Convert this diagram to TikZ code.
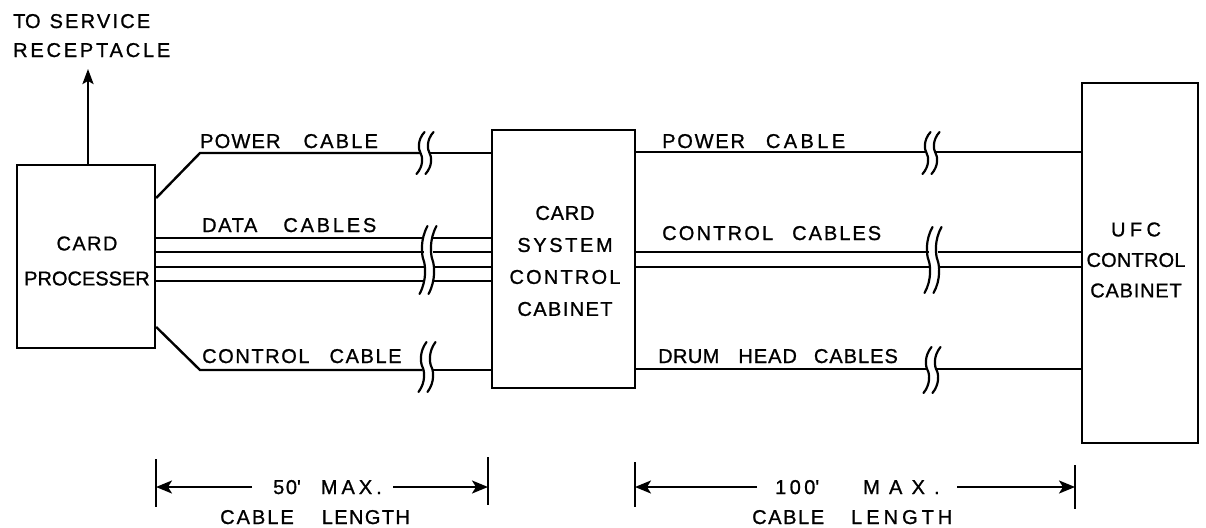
\documentclass[tikz,border=0pt]{standalone}
\usepackage{fontspec}
\setmainfont{Liberation Sans}[FakeBold=1]
\usetikzlibrary{arrows.meta}
\newcommand\lsp[2]{{\addfontfeature{LetterSpace=#1}#2}}
\newcommand\brkmark[3]{%
  \foreach \dx in {-4.5,4.5}{%
    \draw[brk] ({#1+\dx+4},{#2-#3}) .. controls ({#1+\dx-3.5},{#2-0.6*#3}) and ({#1+\dx-2},{#2-0.15*#3}) .. ({#1+\dx},{#2}) .. controls ({#1+\dx+2},{#2+0.15*#3}) and ({#1+\dx+3.5},{#2+0.6*#3}) .. ({#1+\dx-4},{#2+#3});
  }}
\begin{document}
\begin{tikzpicture}[x=1pt,y=-1pt,
  box/.style={draw, line width=2.4pt, inner sep=0pt},
  boxtext/.style={align=center, inner sep=0pt, font=\fontsize{20}{32}\selectfont},
  lbl/.style={inner sep=0pt, anchor=base west, font=\fontsize{20}{23}\selectfont},
  cable/.style={line width=2.4pt},
  brk/.style={line width=2.2pt, line cap=round},
  tick/.style={line width=2.2pt},
  dimarrow/.style={line width=2.2pt, -{Stealth[length=16pt,width=13pt,inset=4pt]}},
]
\useasboundingbox (0,0) rectangle (1206,527);

% boxes
\node[box, minimum width=138pt, minimum height=183pt] (cp) at (86,256.5) {};
\node[box, minimum width=143pt, minimum height=258pt] (csc) at (563.5,259) {};
\node[box, minimum width=116pt, minimum height=360pt] (ufc) at (1140,263) {};
\node[boxtext] (cpt) at (87,261) {\lsp{7}{CARD}\\[3pt]\lsp{0}{PROCESSER}};
\node[boxtext] (csct) at (565,261) {\lsp{4}{CARD}\\\lsp{13}{SYSTEM}\\\lsp{11}{CONTROL}\\\lsp{7}{CABINET}};
\node[boxtext] (ufct) at (1136,260) {\lsp{22}{UFC}\\[-1.5pt]\lsp{1}{CONTROL}\\[-1.5pt]\lsp{4}{CABINET}};

% service arrow
\coordinate (svc) at (88,69);
\draw[cable, -{Stealth[length=15pt,width=11pt,inset=3pt]}] (cp.north -| svc) -- (svc);
\node[lbl] (tsv) at (13,28) {TO\hspace{9pt}\lsp{11}{SERVICE}};
\node[lbl] (trc) at (13,57) {\lsp{14}{RECEPTACLE}};

% left cables
\draw[cable] (cp.east |- 0,198) -- (200,153) -- (420.5,153);
\draw[cable] (429.5,153) -- (csc.west |- 0,153);
\brkmark{425}{153}{21}
\foreach \yy in {238,252,267,281}{
  \draw[cable] (cp.east |- 0,\yy) -- (423.5,\yy);
  \draw[cable] (432.5,\yy) -- (csc.west |- 0,\yy);
}
\brkmark{428}{260}{34}
\draw[cable] (cp.east |- 0,327) -- (200,370) -- (422.5,370);
\draw[cable] (431.5,370) -- (csc.west |- 0,370);
\brkmark{427}{367}{25}

\node[lbl] (lpw) at (200,148) {\lsp{6}{POWER}\hspace{23pt}\lsp{11}{CABLE}};
\node[lbl] (ldt) at (202,232) {\lsp{8}{DATA}\hspace{26pt}\lsp{14}{CABLES}};
\node[lbl] (lct) at (202,363) {\lsp{8}{CONTROL}\hspace{20pt}\lsp{8}{CABLE}};

% right cables
\draw[cable] (csc.east |- 0,152) -- (926.5,152);
\draw[cable] (935.5,152) -- (ufc.west |- 0,152);
\brkmark{931}{153}{21}
\foreach \yy in {252,267}{
  \draw[cable] (csc.east |- 0,\yy) -- (928.5,\yy);
  \draw[cable] (937.5,\yy) -- (ufc.west |- 0,\yy);
}
\brkmark{933}{260}{33}
\draw[cable] (csc.east |- 0,369) -- (927.5,369);
\draw[cable] (936.5,369) -- (ufc.west |- 0,369);
\brkmark{932}{370}{23}

\node[lbl] (rpw) at (662,148) {\lsp{9}{POWER}\hspace{21pt}\lsp{17}{CABLE}};
\node[lbl] (rct) at (662,240) {\lsp{11}{CONTROL}\hspace{19pt}\lsp{10}{CABLES}};
\node[lbl] (rdh) at (658,363) {\lsp{2}{DRUM}\hspace{19pt}\lsp{5}{HEAD}\hspace{17pt}\lsp{5}{CABLES}};

% dimension 1
\coordinate (d1a) at (156,487);
\coordinate (d1b) at (488,487);
\draw[tick] (156,459) -- (156,507);
\draw[tick] (488,457) -- (488,505);
\draw[dimarrow] (252,487) -- (d1a);
\draw[dimarrow] (393,487) -- (d1b);
\node[lbl] (m50) at (273,494) {\lsp{8}{50\textquotesingle}\hspace{20pt}\lsp{20}{MAX.}};
\node[lbl] (c50) at (220,524) {\lsp{10}{CABLE}\hspace{28pt}\lsp{7}{LENGTH}};

% dimension 2
\coordinate (d2a) at (635,487);
\coordinate (d2b) at (1075,487);
\draw[tick] (635,462) -- (635,507);
\draw[tick] (1075,465) -- (1075,509);
\draw[dimarrow] (757,487) -- (d2a);
\draw[dimarrow] (957,487) -- (d2b);
\node[lbl] (m100) at (775,494) {\lsp{17}{100\textquotesingle}\hspace{44pt}\lsp{46}{MAX.}};
\node[lbl] (c100) at (752,524) {\lsp{8}{CABLE}\hspace{27pt}\lsp{20}{LENGTH}};
\end{tikzpicture}
\end{document}
